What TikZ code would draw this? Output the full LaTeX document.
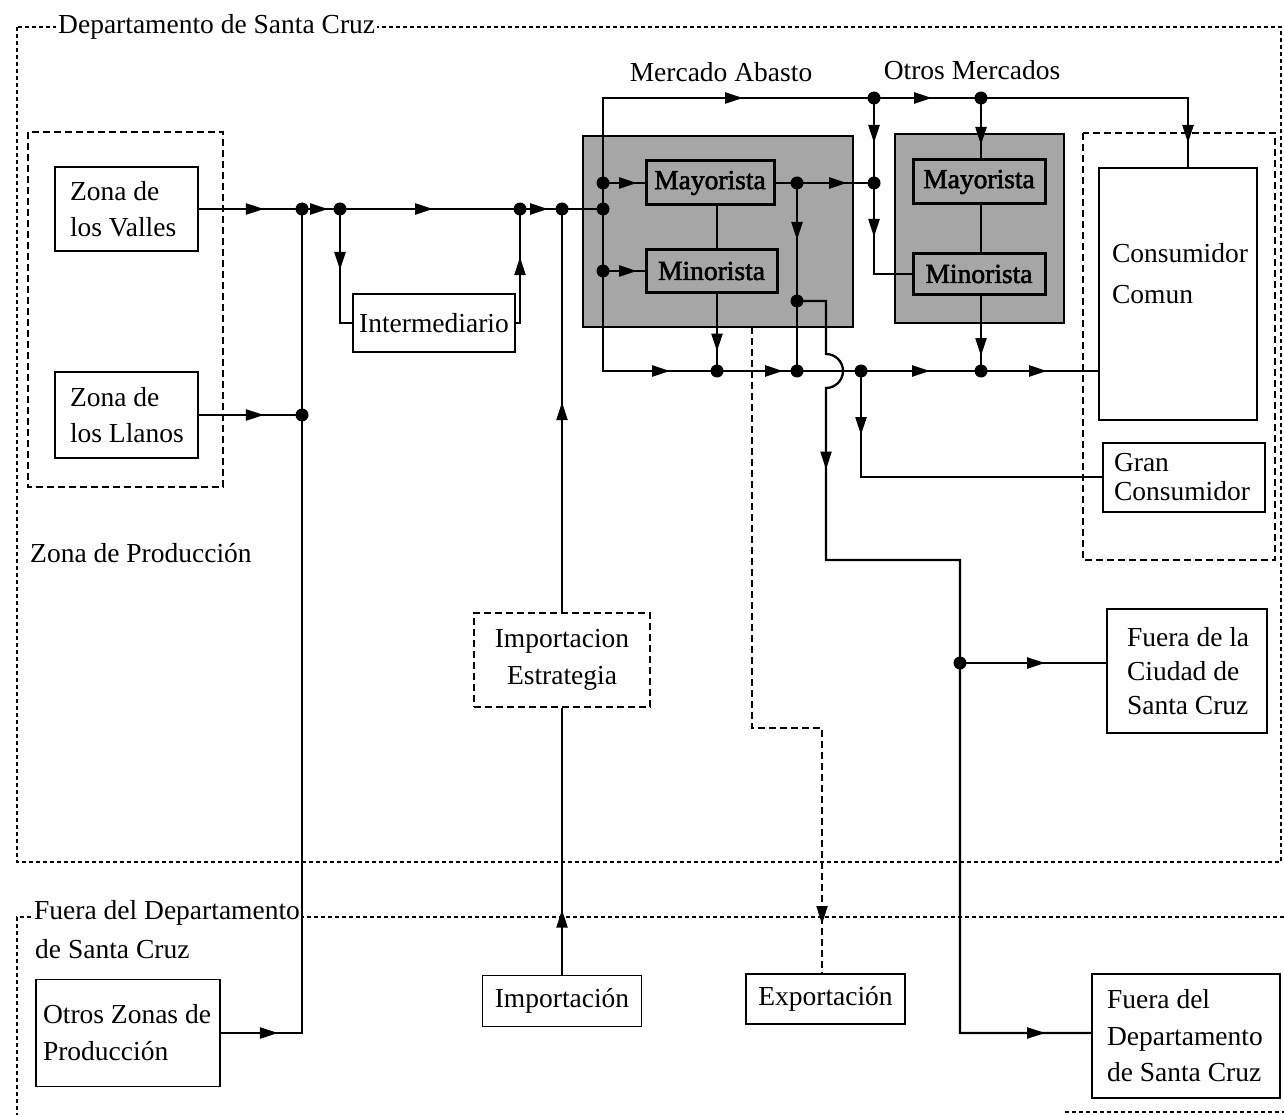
\documentclass[tikz,border=0pt]{standalone}
\usepackage{fontspec}
\setmainfont{Liberation Serif}
\newfontfamily\heavyfont{Liberation Serif}[FakeBold=2]
\usetikzlibrary{arrows.meta,decorations.markings}
\tikzset{
  conn/.style={line width=2.3pt},
  tipat/.style={postaction={decorate,decoration={markings,mark=at position #1 with {\arrow{Triangle[length=18pt,width=11pt]}}}}},
  dot/.style={circle,fill=black,inner sep=0pt,minimum size=13pt},
  lbl/.style={font=\fontsize{27.5}{35}\selectfont},
  bx/.style={draw,line width=1.8pt,font=\fontsize{27.5}{36}\selectfont,align=flush left,inner xsep=3pt,inner ysep=0pt},
  cbx/.style={draw,line width=1.8pt,font=\fontsize{27.5}{36}\selectfont,align=flush center,inner sep=0pt},
  shadebox/.style={draw,line width=1.6pt,fill=black!35,inner sep=0pt},
  mk/.style={draw,line width=3pt,fill=black!35,inner sep=0pt,font=\heavyfont\fontsize{27.5}{33}\selectfont},
  outerdash/.style={line width=1.3pt,dash pattern=on 4pt off 3pt},
  innerdash/.style={line width=1.7pt,dash pattern=on 7pt off 4pt},
}
\begin{document}
\begin{tikzpicture}[x=1pt,y=-1pt]
\useasboundingbox (0,0) rectangle (1284,1115);
\fill[white] (0,0) rectangle (1284,1115);

% ---- dashed regions
\draw[outerdash] (17,27) rectangle (1281,862);
\draw[outerdash] (1284,917) -- (17,917) -- (17,1115);
\draw[outerdash] (1065,1112) -- (1284,1112);
\draw[innerdash] (28,132) rectangle (223,487);
\draw[innerdash] (1083,133) rectangle (1275,560);

% ---- labels
\node[lbl,anchor=west,fill=white,inner sep=2pt] (tdep) at (56,27) {Departamento de Santa Cruz};
\node[lbl,anchor=west,fill=white,inner sep=2pt] (tfuera) at (32,913) {Fuera del Departamento};
\node[lbl,anchor=west,inner sep=2pt] (tfuera2) at (33,949) {de Santa Cruz};
\node[lbl,anchor=west,inner sep=0pt] (tzona) at (30,553) {Zona de Producción};
\node[lbl] (tabasto) at (721,72) {Mercado Abasto};
\node[lbl] (totros) at (972,70) {Otros Mercados};

% ---- markets
\node[shadebox,minimum width=270pt,minimum height=191pt] (abasto) at (718,231.5) {};
\node[shadebox,minimum width=169pt,minimum height=189pt] (otrosm) at (979.5,228.5) {};
\node[mk,minimum width=128pt,minimum height=44pt] (mayA) at (710,183) {Mayorista};
\node[mk,minimum width=131pt,minimum height=42pt] (minA) at (711.5,271) {Minorista};
\node[mk,minimum width=132pt,minimum height=44pt] (mayO) at (979,182) {Mayorista};
\node[mk,minimum width=132pt,minimum height=41pt] (minO) at (979,274) {Minorista};

% ---- boxes
\node[bx,text width=137pt,minimum height=84pt] (valles) at (126.5,209) {\hspace*{12pt}Zona de\\\hspace*{12pt}los Valles};
\node[bx,text width=137pt,minimum height=86pt] (llanos) at (126.5,415) {\hspace*{12pt}Zona de\\\hspace*{12pt}los Llanos};
\node[bx,text width=178pt,minimum height=107pt,font=\fontsize{27.5}{37}\selectfont] (otroszonas) at (128,1033) {\hspace*{4pt}Otros Zonas de\\\hspace*{4pt}Producción};
\node[cbx,minimum width=162pt,minimum height=58pt] (inter) at (434,323) {Intermediario};
\node[cbx,innerdash,minimum width=176pt,minimum height=94pt,font=\fontsize{27.5}{37}\selectfont] (ie) at (562,660) {Importacion\\Estrategia};
\node[cbx,minimum width=159pt,minimum height=51pt] (impo) at (562,1001) {Importación};
\node[cbx,minimum width=159pt,minimum height=50pt] (expo) at (825.5,999) {Exportación};
\node[bx,text width=182pt,minimum height=124pt,font=\fontsize{27.5}{36.5}\selectfont] (fdepto) at (1186,1036) {\hspace*{12pt}Fuera del\\\hspace*{12pt}Departamento\\\hspace*{12pt}de Santa Cruz};
\node[bx,text width=154pt,minimum height=124pt,font=\fontsize{27.5}{34}\selectfont] (fciudad) at (1187,671) {\hspace*{17pt}Fuera de la\\\hspace*{17pt}Ciudad de\\\hspace*{17pt}Santa Cruz};
\node[bx,text width=156pt,minimum height=69pt,font=\fontsize{27.5}{29}\selectfont] (gran) at (1184,477.5) {\hspace*{8pt}Gran\\\hspace*{8pt}Consumidor};
\node[bx,text width=152pt,minimum height=252pt,font=\fontsize{27.5}{41}\selectfont] (comun) at (1178,294) {\hspace*{10pt}Consumidor\\\hspace*{10pt}Comun\\\mbox{}};

% ---- junctions
\coordinate (j1) at (302,209);
\coordinate (j2) at (340,209);
\coordinate (j3) at (520,209);
\coordinate (j4) at (562,209);
\coordinate (j5) at (603,209);
\coordinate (jL) at (302,415);
\coordinate (jz) at (302,1033);
\coordinate (ja) at (603,183);
\coordinate (jb) at (603,271);
\coordinate (t1) at (874,98);
\coordinate (t2) at (981,98);
\coordinate (t3) at (1188,98);
\coordinate (m1) at (797,183);
\coordinate (m2) at (874,183);
\coordinate (m3) at (797,301);
\coordinate (b1) at (717,371);
\coordinate (b2) at (797,371);
\coordinate (b3) at (861,371);
\coordinate (b4) at (981,371);
\coordinate (h1) at (826,301);
\coordinate (h2) at (826,354);
\coordinate (c1) at (826,560);
\coordinate (c2) at (960,560);
\coordinate (c3) at (960,663);
\coordinate (c4) at (960,1033);
\coordinate (g1) at (861,477);
\coordinate (e1) at (752,327);
\coordinate (e2) at (752,728);
\coordinate (e3) at (822,728);

% ---- connectors
\draw[conn,tipat=65pt] (valles.east) -- (j1);
\draw[conn,tipat=26pt] (j1) -- (j2);
\draw[conn,tipat=93pt] (j2) -- (j3);
\draw[conn,tipat=28pt] (j3) -- (j4);
\draw[conn] (j4) -- (j5);
\draw[conn,tipat=65pt] (llanos.east) -- (jL);
\draw[conn,tipat=57pt] (otroszonas.east |- jz) -- (jz) -- (j1);
\draw[conn,tipat=61pt] (j2) |- (inter.west);
\draw[conn,tipat=70pt] (inter.east) -| (j3);
\draw[conn,tipat=65pt] (impo.north) -- (ie.south);
\draw[conn,tipat=210pt] (ie.north) -- (j4);
\draw[conn,tipat=251pt] (j5) |- (t1);
\draw[conn,tipat=58pt] (t1) -- (t2);
\draw[conn,tipat=252pt] (t2) -- (t3) -- (t3 |- comun.north);
\draw[conn,tipat=229pt] (j5) |- (b1);
\draw[conn,tipat=34pt] (ja) -- (mayA.west);
\draw[conn,tipat=34pt] (jb) -- (minA.west);
\draw[conn] (mayA.south -| b1) -- (minA.north -| b1);
\draw[conn,tipat=58pt] (minA.south -| b1) -- (b1);
\draw[conn,tipat=66pt] (b1) -- (b2);
\draw[conn] (b2) -- (b3);
\draw[conn,tipat=69pt] (b3) -- (b4);
\draw[conn,tipat=66pt] (b4) -- (comun.west |- b4);
\draw[conn] (mayA.east) -- (m1);
\draw[conn,tipat=50pt] (m1) -- (m2);
\draw[conn,tipat=57pt] (m1) -- (b2);
\draw[conn,tipat=217pt,tipat=-46pt] (m3) -- (h1) -- (h2) arc[start angle=-90,end angle=90,radius=17] -- (c1) -- (c2) -- (c4) -- (fdepto.west |- c4);
\draw[conn,tipat=85pt] (c3) -- (fciudad.west |- c3);
\draw[conn,tipat=64pt] (b3) -- (g1) -- (gran.west |- g1);
\draw[conn,tipat=45pt,tipat=139pt] (t1) |- (minO.west);
\draw[conn,tipat=47pt] (t2) -- (mayO.north -| t2);
\draw[conn] (mayO.south -| t2) -- (minO.north -| t2);
\draw[conn,tipat=60pt] (minO.south -| t2) -- (b4);
\draw[innerdash,tipat=-49pt] (e1) -- (e2) -- (e3) -- (expo.north -| e3);

% ---- dots
\foreach \p in {j1,j2,j3,j4,j5,jL,ja,jb,t1,t2,m1,m2,m3,b1,b2,b3,b4,c3}
  \node[dot] (d-\p) at (\p) {};
\end{tikzpicture}
\end{document}
